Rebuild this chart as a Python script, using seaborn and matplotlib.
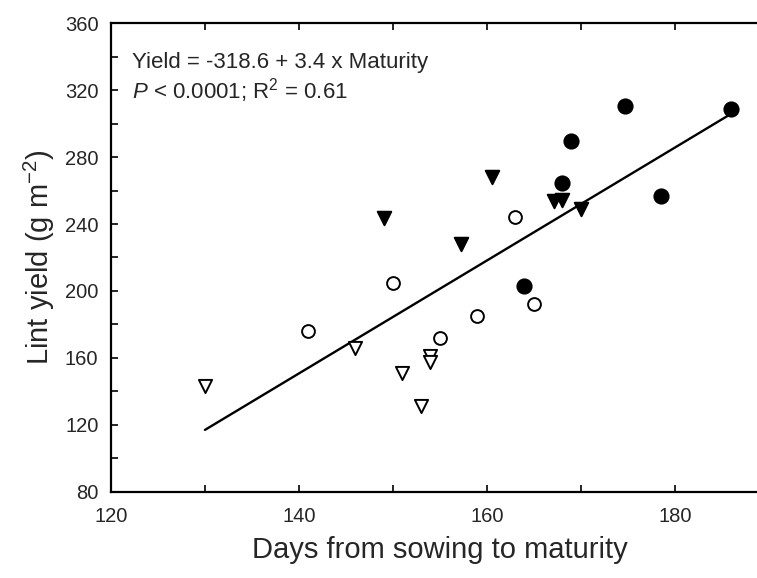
import numpy as np
import pandas as pd
import matplotlib
matplotlib.use("Agg")
import matplotlib.pyplot as plt
import seaborn as sns
from matplotlib.ticker import MultipleLocator

# days from sowing to maturity / lint yield
open_tri_x = [130, 146, 151, 153, 154, 154]
open_tri_y = [143, 166, 151, 131, 161, 157.5]
open_circ_x = [141, 150, 155, 159, 163, 165]
open_circ_y = [176, 204.6, 172, 185, 244.4, 192]
fill_tri_x = [149, 157.2, 160.5, 167.1, 168, 170]
fill_tri_y = [243.4, 228, 268, 254, 254.3, 248.8]
fill_circ_x = [164, 168, 169, 174.7, 178.5, 186]
fill_circ_y = [203, 264.7, 289.7, 310.4, 256.7, 308.5]

groups = [
    ("open_tri", open_tri_x, open_tri_y),
    ("open_circ", open_circ_x, open_circ_y),
    ("fill_tri", fill_tri_x, fill_tri_y),
    ("fill_circ", fill_circ_x, fill_circ_y),
]
df = pd.concat(
    [pd.DataFrame({"days": x, "yield": y, "group": g}) for g, x, y in groups],
    ignore_index=True,
)

sns.set_style("ticks")
plt.rcParams["font.family"] = ["Liberation Sans", "DejaVu Sans"]
plt.rcParams["mathtext.fontset"] = "custom"
plt.rcParams["mathtext.rm"] = "Liberation Sans"
plt.rcParams["mathtext.it"] = "Liberation Sans:italic"
plt.rcParams["mathtext.default"] = "regular"

fig = plt.figure(figsize=(7.57, 5.78), dpi=100)
ax = fig.add_axes([0.1466, 0.149, 0.869, 0.811])

styles = {
    "open_tri": dict(marker="v", facecolor="white", s=90),
    "open_circ": dict(marker="o", facecolor="white", s=85),
    "fill_tri": dict(marker="v", facecolor="black", s=95),
    "fill_circ": dict(marker="o", facecolor="black", s=105),
}
for g, sub in df.groupby("group"):
    st = styles[g]
    sns.scatterplot(data=sub, x="days", y="yield", ax=ax, marker=st["marker"],
                    s=st["s"], color=st["facecolor"], edgecolor="black",
                    linewidth=1.4, zorder=3)

# least squares line through all points
sns.regplot(data=df, x="days", y="yield", ax=ax, scatter=False, ci=None,
            truncate=True, color="black", line_kws={"linewidth": 1.7})

ax.set_xlim(120, 190)
ax.set_ylim(80, 360)
ax.xaxis.set_major_locator(MultipleLocator(20))
ax.xaxis.set_minor_locator(MultipleLocator(10))
ax.yaxis.set_major_locator(MultipleLocator(40))
ax.yaxis.set_minor_locator(MultipleLocator(20))
ax.tick_params(which="both", direction="in", top=True, right=False,
               length=5, width=1.2, labelsize=14.5, color="black")
ax.tick_params(axis="x", pad=11)
ax.tick_params(axis="y", pad=9)
for sp in ["left", "bottom", "top"]:
    ax.spines[sp].set_linewidth(1.6)
    ax.spines[sp].set_color("black")
ax.spines["right"].set_visible(False)

ax.set_xlabel("Days from sowing to maturity", fontsize=21, labelpad=7)
ax.set_ylabel("Lint yield (g m$^{-2}$)", fontsize=21, labelpad=6)

ax.text(0.032, 0.917, "Yield = -318.6 + 3.4 x Maturity", transform=ax.transAxes,
        fontsize=16, va="center")
ax.text(0.032, 0.857, "$\\mathit{P}$ < 0.0001; R$^2$ = 0.61", transform=ax.transAxes,
        fontsize=16, va="center")

fig.savefig("out.png", dpi=100)
